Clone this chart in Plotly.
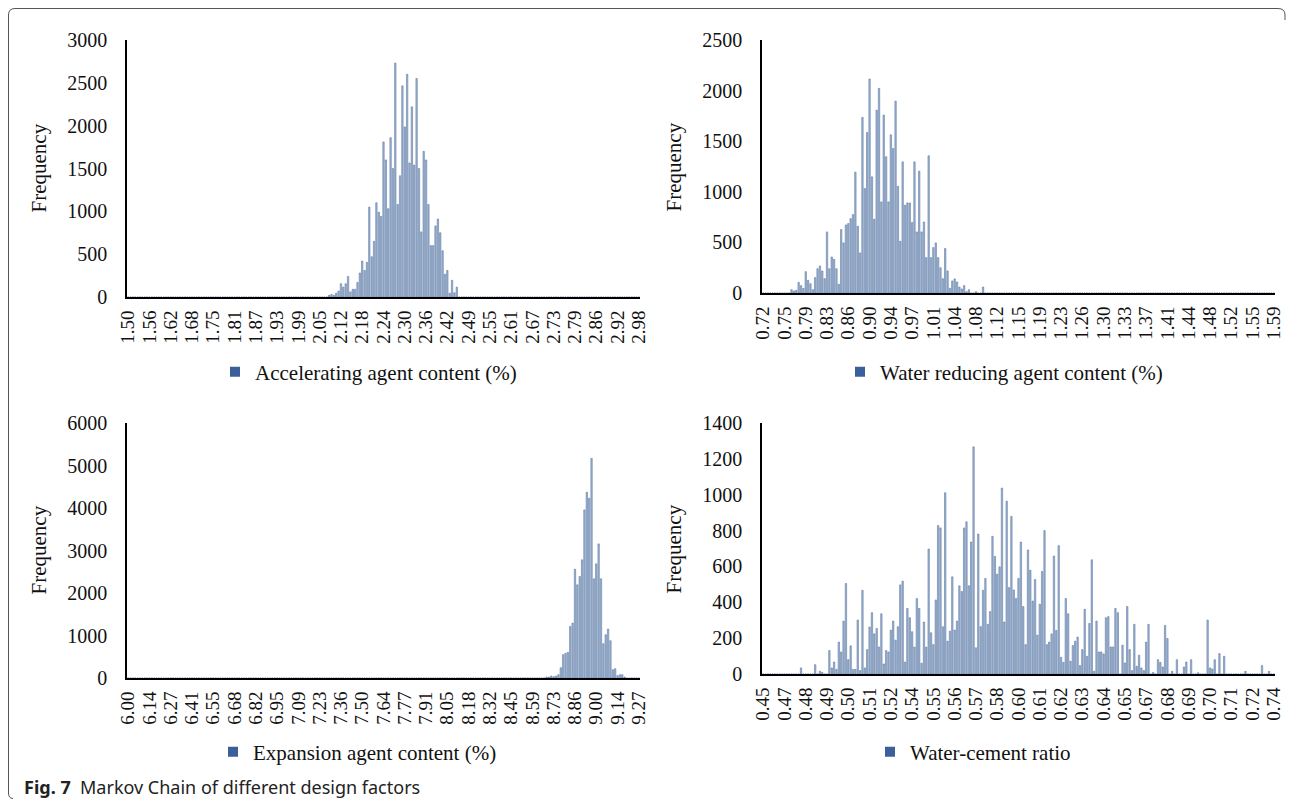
import plotly.graph_objects as go

# Figure drawn from the window's top-left corner; kept slightly smaller than the
# window so that no scrollbars appear.
OFF = 0
W, H = 1286, 799
N_BINS = 217
LABEL_EVERY = 9

# ---------------- data ----------------
acc_labels = ["1.50", "1.56", "1.62", "1.68", "1.75", "1.81", "1.87", "1.93", "1.99", "2.05",
              "2.12", "2.18", "2.24", "2.30", "2.36", "2.42", "2.49", "2.55", "2.61", "2.67",
              "2.73", "2.79", "2.86", "2.92", "2.98"]
acc_counts = [0] * 85 + [
    20, 30, 20, 45, 70, 155, 115, 155, 240, 60, 90, 90, 170, 280, 420, 310, 405, 1050, 470, 650,
    1100, 990, 940, 1810, 1600, 1030, 1860, 1500, 2730, 1080, 1415, 2465, 1985, 2600, 1565, 2220,
    1540, 2550, 1500, 760, 1700, 1600, 1080, 600, 600, 830, 910, 750, 540, 265, 310, 45, 195, 50, 115
] + [0] * 77

wr_labels = ["0.72", "0.75", "0.79", "0.83", "0.86", "0.90", "0.94", "0.97", "1.01", "1.04",
             "1.08", "1.12", "1.15", "1.19", "1.23", "1.26", "1.30", "1.33", "1.37", "1.41",
             "1.44", "1.48", "1.52", "1.55", "1.59"]
wr_counts = [0] * 12 + [
    33, 20, 26, 105, 73, 46, 211, 125, 92, 33, 152, 240, 267, 218, 142, 604, 240, 356, 333, 240,
    86, 627, 495, 673, 686, 735, 775, 1194, 660, 396, 1735, 1032, 1586, 2114, 1148, 729, 1807, 2022,
    900, 1758, 1346, 900, 1563, 1428, 1896, 1055, 511, 1296, 867, 890, 890, 696, 1296, 604, 1204,
    604, 702, 350, 1356, 350, 449, 495, 350, 250, 142, 439, 218, 46, 119, 139, 109, 59, 40, 73, 13,
    33, 0, 0, 13, 0, 0, 59
] + [0] * 123

exp_labels = ["6.00", "6.14", "6.27", "6.41", "6.55", "6.68", "6.82", "6.95", "7.09", "7.23",
              "7.36", "7.50", "7.64", "7.77", "7.91", "8.05", "8.18", "8.32", "8.45", "8.59",
              "8.73", "8.86", "9.00", "9.14", "9.27"]
exp_counts = [0] * 177 + [
    23, 23, 47, 31, 47, 78, 243, 548, 580, 603, 1214, 1292, 2561, 2193, 2388, 2780, 3955, 4370,
    4229, 5168, 2334, 2686, 3156, 2334, 807, 1018, 1151, 877, 196, 219, 55, 78, 78, 23
] + [0] * 6

wc_labels = ["0.45", "0.47", "0.48", "0.49", "0.50", "0.51", "0.52", "0.54", "0.55", "0.56",
             "0.57", "0.58", "0.60", "0.61", "0.62", "0.63", "0.64", "0.65", "0.67", "0.68",
             "0.69", "0.70", "0.71", "0.72", "0.74"]
wc_counts = (
    [0] * 16 + [34] + [0] * 5 + [52, 0, 15, 9, 0, 0]
    + [131, 34, 67, 26, 178, 123, 295, 505, 80, 157, 26, 26, 301, 19, 467, 34, 136, 262, 342, 224,
       254, 151, 336, 56, 131, 123, 245, 295, 189, 264, 497, 518, 67, 366, 314, 236, 150, 421, 366,
       60, 290, 150, 697, 230, 164, 413, 828, 815, 264, 1011, 183]
    + [239, 542, 245, 295, 492, 460, 815, 849, 492, 736, 1267, 146, 781, 264, 467, 533, 277, 348,
       768, 656, 557, 598, 1037, 290, 964, 482, 879, 469, 421, 533, 736, 376, 164, 692, 579, 407,
       527, 217, 389, 572, 800, 164, 178, 224, 658, 243, 716, 93, 65, 421, 336, 71, 159, 183, 206,
       47, 136, 361, 99, 282, 637, 15, 295, 123, 123, 112, 314, 320]
    + [151, 151, 366, 342, 0, 161, 62, 376, 136, 19, 277, 43, 105, 34, 19, 178, 277, 0, 9, 0,
       80, 65, 39, 271, 198, 0, 15, 0, 80, 0, 0, 39, 67, 0, 80, 0, 0, 7, 0, 0,
       0, 301, 34, 28, 80, 0, 114, 0, 99, 0, 0, 0, 0, 0, 0, 0, 0, 15, 0,
       0, 0, 0, 0, 0, 47, 0, 0, 15, 0, 0]
)

panels = [
    dict(name="Accelerating agent content (%)", labels=acc_labels, counts=acc_counts,
         ymax=3000, dtick=500, box=(127, 640, 40, 297), legend_text_x=255, legend_y=372),
    dict(name="Water reducing agent content (%)", labels=wr_labels, counts=wr_counts,
         ymax=2500, dtick=500, box=(762, 1275, 40, 293), legend_text_x=880, legend_y=372),
    dict(name="Expansion agent content (%)", labels=exp_labels, counts=exp_counts,
         ymax=6000, dtick=1000, box=(127, 640, 423, 678), legend_text_x=253, legend_y=752),
    dict(name="Water-cement ratio", labels=wc_labels, counts=wc_counts,
         ymax=1400, dtick=200, box=(762, 1275, 423, 674), legend_text_x=910, legend_y=752),
]

# ---------------- styling ----------------
SERIF = "Liberation Serif, Times New Roman, serif"
BAR_FILL = "#A3B7D2"
BAR_EDGE = "#4A6B9A"
LEG_COLOR = "#3A5F9A"


def fx(sx):
    """window x pixel -> paper fraction"""
    return (sx - OFF) / W


def fy(sy):
    """window y pixel -> paper fraction"""
    return 1 - (sy - OFF) / H


fig = go.Figure()
layout = dict(
    width=W, height=H, margin=dict(l=0, r=0, t=0, b=0, autoexpand=False),
    paper_bgcolor="white", plot_bgcolor="white",
    bargap=0.4, showlegend=True, annotations=[], shapes=[],
)

bins = list(range(N_BINS))
for i, p in enumerate(panels):
    k = "" if i == 0 else str(i + 1)
    xa, ya = "x" + k, "y" + k
    leg = "legend" + k
    assert len(p["counts"]) == N_BINS, (p["name"], len(p["counts"]))
    fig.add_trace(go.Bar(
        x=bins, y=p["counts"], xaxis=xa, yaxis=ya, showlegend=False,
        marker=dict(color=BAR_FILL, line=dict(color=BAR_EDGE, width=0.5)),
        hovertemplate="%{y}<extra></extra>",
    ))
    fig.add_trace(go.Scatter(
        x=[None], y=[None], xaxis=xa, yaxis=ya, mode="markers", name=p["name"],
        marker=dict(symbol="square", size=10, color=LEG_COLOR), legend=leg,
    ))
    l, r, t, b = p["box"]
    layout["xaxis" + k] = dict(
        domain=[fx(l), fx(r)], anchor=ya, range=[-0.5, N_BINS - 0.5],
        tickmode="array", tickvals=bins[::LABEL_EVERY], ticktext=p["labels"],
        tickangle=-90, ticks="", showgrid=False, zeroline=False, automargin=False,
        showline=True, linecolor="black", linewidth=2,
        tickfont=dict(family=SERIF, size=19, color="#111"), ticklabelstandoff=4,
    )
    layout["yaxis" + k] = dict(
        domain=[fy(b), fy(t)], anchor=xa, range=[0, p["ymax"]],
        tickmode="linear", tick0=0, dtick=p["dtick"], ticks="", showgrid=False,
        zeroline=False, showline=True, linecolor="black", linewidth=1.5, automargin=False,
        tickfont=dict(family=SERIF, size=20, color="#111"), ticklabelstandoff=14,
    )
    layout[leg] = dict(
        x=fx(p["legend_text_x"] - 40), y=fy(p["legend_y"]),
        xanchor="left", yanchor="middle", bgcolor="rgba(0,0,0,0)",
        font=dict(family=SERIF, size=21, color="#111"), itemwidth=30,
    )
    layout["annotations"].append(dict(
        text="Frequency", textangle=-90, x=fx(l - 89), y=fy((t + b) / 2),
        xref="paper", yref="paper", showarrow=False, xanchor="center", yanchor="middle",
        font=dict(family=SERIF, size=21, color="#111"),
    ))

layout["annotations"].append(dict(
    text="<b>Fig. 7</b>  Markov Chain of different design factors",
    x=fx(22), y=fy(787), xref="paper", yref="paper", showarrow=False,
    xanchor="left", yanchor="middle",
    font=dict(family="Noto Sans, Open Sans, sans-serif", size=18, color="#222"),
))


# figure frame (rounded corners, open on the right below the top corner)
def pt(sx, sy):
    return f"{fx(sx):.5f},{fy(sy):.5f}"


frame_path = (
    f"M {pt(1285, 20)} L {pt(1285, 15)} Q {pt(1285, 8.5)} {pt(1278, 8.5)} "
    f"L {pt(15, 8.5)} Q {pt(8.5, 8.5)} {pt(8.5, 15)} L {pt(8.5, 793)} Q {pt(8.5, 798.5)} {pt(13, 798.5)}"
)
layout["shapes"].append(dict(
    type="path", path=frame_path, xref="paper", yref="paper",
    line=dict(color="#555", width=1),
))

fig.update_layout(**layout)
fig.write_html("out.html")
